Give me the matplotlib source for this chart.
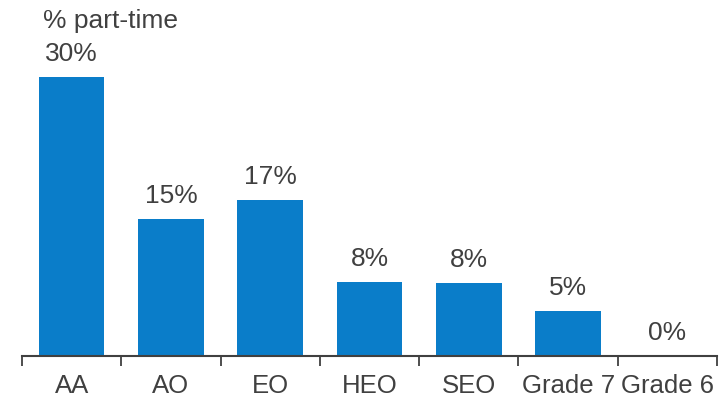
import matplotlib.pyplot as plt
import numpy as np

# share of staff working part-time, by grade
grades = ['AA', 'AO', 'EO', 'HEO', 'SEO', 'Grade 7', 'Grade 6']
part_time = [29.8, 14.6, 16.6, 7.9, 7.8, 4.8, 0.0]

plt.rcParams['font.family'] = ['Liberation Sans', 'DejaVu Sans']
txt = '#404040'
blue = '#0A7DC9'

fig = plt.figure(figsize=(7.23, 4.03), dpi=100)
ax = fig.add_axes([22 / 723, 47 / 403, 695 / 723, 309.5 / 403])

x = np.arange(len(grades))
ax.bar(x, part_time, width=0.66, color=blue)

for xi, v in zip(x, part_time):
    ax.annotate('{:.0f}%'.format(v), (xi, v), xytext=(0, 11.5),
                textcoords='offset points', ha='center', va='baseline',
                fontsize=19, color=txt)

ax.set_xlim(-0.5, len(grades) - 0.5)
ax.set_ylim(0, 33)

# category boundaries get the tick marks, labels sit in between
ax.set_xticks(x)
ax.set_xticklabels(grades, fontsize=18.5, color=txt)
ax.tick_params(axis='x', which='major', length=0, pad=13)
ax.set_xticks(np.arange(-0.5, len(grades)), minor=True)
ax.tick_params(axis='x', which='minor', length=7, width=1.3, color='#404040')

ax.set_yticks([])
for s in ['top', 'right', 'left']:
    ax.spines[s].set_visible(False)
ax.spines['bottom'].set_color('#404040')
ax.spines['bottom'].set_linewidth(1.5)

fig.text(43 / 723, 1 - 28 / 403, '% part-time', ha='left', va='baseline',
         fontsize=19, color=txt)

fig.savefig('out.png', dpi=100)
